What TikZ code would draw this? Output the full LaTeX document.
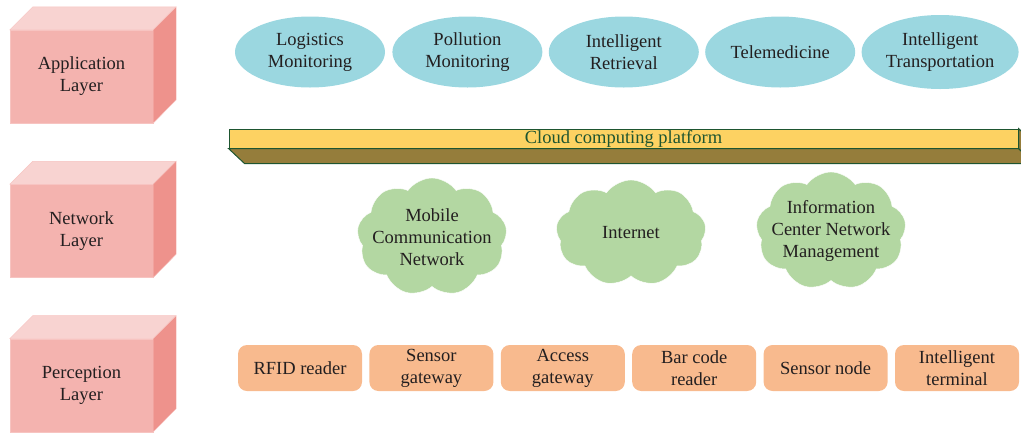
\documentclass[tikz,border=0pt]{standalone}
\usepackage{fontspec}
\setmainfont{Liberation Serif}
\usetikzlibrary{shapes,positioning,calc}

\definecolor{txt}{HTML}{231F20}
\definecolor{layerfront}{HTML}{F4B3AF}
\definecolor{layertop}{HTML}{F8D3D1}
\definecolor{layerside}{HTML}{EE928C}
\definecolor{layeredge}{HTML}{F7C4C1}
\definecolor{appfill}{HTML}{9BD7E0}
\definecolor{netfill}{HTML}{B3D7A2}
\definecolor{devfill}{HTML}{F8BA8E}
\definecolor{barfront}{HTML}{FDD262}
\definecolor{barbottom}{HTML}{957D3B}
\definecolor{baredge}{HTML}{1E5530}

\begin{document}
\begin{tikzpicture}[x=1pt,y=-1pt,
  font=\fontsize{18.5}{22}\selectfont, text=txt,
  layer/.style={rectangle, fill=layerfront, draw=layeredge, minimum width=143pt,
    minimum height=93pt, align=center, inner sep=0pt},
  app/.style={ellipse, fill=appfill, minimum width=150pt, minimum height=71pt,
    align=center, inner sep=0pt},
  net/.style={cloud, cloud puffs=9, cloud puff arc=110, cloud ignores aspect,
    fill=netfill, draw=white, minimum width=150pt, minimum height=118pt,
    align=center, inner sep=-25pt},
  dev/.style={rectangle, rounded corners=9pt, fill=devfill, minimum width=124pt,
    minimum height=46pt, align=center, inner sep=0pt},
  platform/.style={rectangle, fill=barfront, draw=baredge, line width=1pt,
    minimum width=789pt, minimum height=19pt, inner sep=0pt, text=baredge}]
  \useasboundingbox (0,0) rectangle (1021,432);

  % layers on the left
  \node[layer] (app) at (81.5,76.5) {Application\\Layer};
  \node[layer] (net) [below=61pt of app] {Network\\Layer};
  \node[layer] (per) [below=61pt of net] {Perception\\Layer};
  \foreach \n in {app,net,per} {
    \filldraw[fill=layertop, draw=layeredge] (\n.north west) -- ++(23,-23) -- ++(143,0) -- (\n.north east) -- cycle;
    \filldraw[fill=layerside, draw=layeredge] (\n.north east) -- ++(23,-23) -- ++(0,93) -- (\n.south east) -- cycle;
  }

  % application layer
  \node[app] (logi) at (310,52) {Logistics\\Monitoring};
  \node[app] (poll) [right=7pt of logi] {Pollution\\Monitoring};
  \node[app] (retr) [right=6pt of poll] {Intelligent\\Retrieval};
  \node[app] (tele) [right=6pt of retr] {Telemedicine};
  \node[app, minimum width=157pt, minimum height=74pt] (trans) [right=6pt of tele] {Intelligent\\Transportation};

  % cloud computing platform
  \node[platform] (cloudbar) at (623.5,138.5) {Cloud computing platform};
  \filldraw[fill=barbottom, draw=baredge, line width=1pt] (cloudbar.south west) -- (cloudbar.south east)
    -- ++(16,15) -- ($(cloudbar.south west)+(16,15)$) -- cycle;
  \filldraw[fill=barbottom, draw=baredge, line width=1pt] (cloudbar.north east) -- ++(16,15)
    -- ++(0,19) -- (cloudbar.south east) -- cycle;

  % network layer
  \node[net] (mobile) at (432,237) {Mobile\\Communication\\Network};
  \node[net, minimum height=106pt] (inet) at (631,233) {Internet};
  \node[net] (info) at (831,231) {Information\\Center Network\\Management};

  % perception layer
  \node[dev] (rfid) at (300,368) {RFID reader};
  \node[dev] (sgate) [right=7pt of rfid] {Sensor\\gateway};
  \node[dev] (agate) [right=7pt of sgate] {Access\\gateway};
  \node[dev] (barcode) [right=7pt of agate] {Bar code\\reader};
  \node[dev] (snode) [right=7pt of barcode] {Sensor node};
  \node[dev] (term) [right=7pt of snode] {Intelligent\\terminal};
\end{tikzpicture}
\end{document}
